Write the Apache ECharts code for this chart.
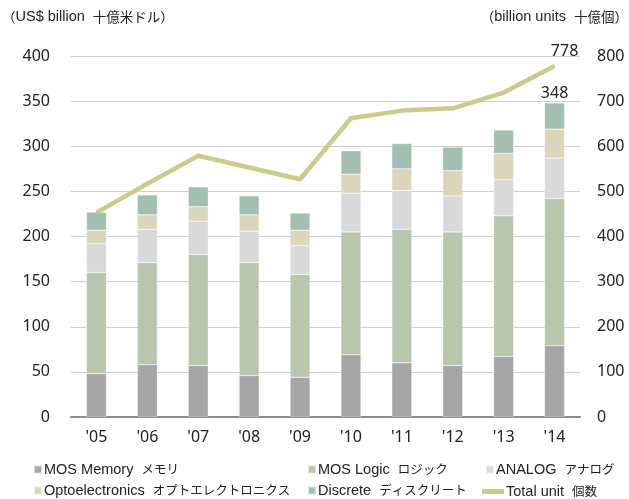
<!DOCTYPE html>
<html>
<head>
<meta charset="utf-8">
<script src="https://cdn.jsdelivr.net/npm/echarts@6/dist/echarts.min.js"></script>
<style>
  html, body { margin: 0; padding: 0; background: #fff; }
  #chart { width: 629px; height: 499px; }
</style>
</head>
<body>
<div id="chart"></div>
<script>
const years = ["'05", "'06", "'07", "'08", "'09", "'10", "'11", "'12", "'13", "'14"]
const memory = [48, 58, 57, 46, 44, 69, 60, 57, 67, 79]
const logic = [112, 113, 123, 125, 114, 136, 148, 148, 156, 163]
const analog = [32, 37, 37, 35, 32, 43, 43, 40, 40, 45]
const opto = [15, 16, 16, 18, 17, 21, 24, 28, 29, 32]
const discrete = [20, 22, 22, 21, 19, 26, 28, 26, 26, 29]
const totalUnits = [453, 517, 579, 553, 527, 662, 679, 684, 719, 778]
const leftTicks = [0, 400, 50]
const rightTicks = [0, 800, 100]

const font = "'Noto Sans', 'Noto Sans CJK JP', sans-serif"
const latin = "'Liberation Sans', sans-serif"
const cjk = "'Noto Sans CJK JP', sans-serif"
const names = {
  memory: 'MOS Memory  メモリ',
  logic: 'MOS Logic  ロジック',
  analog: 'ANALOG  アナログ',
  opto: 'Optoelectronics  オプトエレクトロニクス',
  discrete: 'Discrete  ディスクリート',
  total: 'Total unit  個数'
}
const colors = {
  memory: '#a5a5a5',
  logic: '#bac5ad',
  analog: '#d9d9d9',
  opto: '#dbd5bc',
  discrete: '#a2bfb1',
  total: '#c9cc8b'
}

const lastIdx = years.length - 1
const stackTotal = memory[lastIdx] + logic[lastIdx] + analog[lastIdx] + opto[lastIdx] + discrete[lastIdx]

// latin part and japanese part get their own font, the japanese glyphs are narrower in the original
const rich = {
  a: { fontFamily: latin, fontSize: 14.5, color: '#222' },
  b: { fontFamily: cjk, fontSize: 12.5, color: '#222' }
}
function splitName(name) {
  const parts = name.split('  ')
  return '{a|' + parts[0] + '  }{b|' + parts[1] + '}'
}

function barSeries(key, values) {
  return {
    name: names[key],
    type: 'bar',
    stack: 'sales',
    barWidth: 20,
    data: values,
    itemStyle: { color: colors[key], borderColor: 'rgba(255,255,255,0.6)', borderWidth: 0.5 }
  }
}

function oneLegend(key, left, top, isLine) {
  return {
    left: left,
    top: top,
    itemWidth: isLine ? 22 : 8,
    itemHeight: isLine ? 5 : 8,
    itemGap: 0,
    padding: 0,
    formatter: splitName,
    textStyle: { color: '#222', fontSize: 14, rich: rich, padding: [0, 0, 0, -3] },
    data: [{ name: names[key], icon: 'rect' }]
  }
}

const chart = echarts.init(document.getElementById('chart'))

const discreteSeries = barSeries('discrete', discrete.map((v, i) => i === lastIdx ? {
  value: v,
  label: {
    show: true,
    position: 'top',
    formatter: String(stackTotal),
    color: '#222',
    fontSize: 16,
    fontFamily: font,
    distance: 1
  }
} : v))

const option = {
  animation: false,
  backgroundColor: '#fff',
  grid: { left: 71, right: 49, top: 56, bottom: 82, containLabel: false },
  graphic: [
    {
      type: 'text', left: 2, top: 9,
      style: {
        text: '{b|（}{a|US$ billion  }{b|十億米ドル）}',
        rich: { a: { fontFamily: latin, fontSize: 14.5, fill: '#222' }, b: { fontFamily: cjk, fontSize: 13.5, fill: '#222' } }
      }
    },
    {
      type: 'text', right: 1, top: 9,
      style: {
        text: '{b|（}{a|billion units  }{b|十億個）}',
        rich: { a: { fontFamily: latin, fontSize: 14.5, fill: '#222' }, b: { fontFamily: cjk, fontSize: 13.5, fill: '#222' } }
      }
    }
  ],
  legend: [
    oneLegend('memory', 33, 462),
    oneLegend('logic', 307, 462),
    oneLegend('analog', 485, 462),
    oneLegend('opto', 33, 483),
    oneLegend('discrete', 307, 483),
    oneLegend('total', 482, 484, true)
  ],
  xAxis: {
    type: 'category',
    data: years,
    axisLine: { lineStyle: { color: '#8c8c8c', width: 2 } },
    axisTick: { show: false },
    axisLabel: { color: '#222', fontSize: 16, fontFamily: font, margin: 12 }
  },
  yAxis: [
    {
      type: 'value',
      min: leftTicks[0], max: leftTicks[1], interval: leftTicks[2],
      axisLine: { show: false },
      axisTick: { show: false },
      axisLabel: { color: '#222', fontSize: 16, fontFamily: font, margin: 21 },
      splitLine: { lineStyle: { color: '#d0d0d0', width: 1 } }
    },
    {
      type: 'value',
      min: rightTicks[0], max: rightTicks[1], interval: rightTicks[2],
      axisLine: { show: false },
      axisTick: { show: false },
      axisLabel: { color: '#222', fontSize: 16, fontFamily: font, margin: 17 },
      splitLine: { show: false }
    }
  ],
  series: [
    barSeries('memory', memory),
    barSeries('logic', logic),
    barSeries('analog', analog),
    barSeries('opto', opto),
    discreteSeries,
    {
      name: names.total,
      type: 'line',
      yAxisIndex: 1,
      data: totalUnits.map((v, i) => i === lastIdx ? {
        value: v,
        label: {
          show: true,
          position: 'top',
          offset: [10, -1],
          formatter: String(v),
          color: '#222',
          fontSize: 16,
          fontFamily: font
        }
      } : v),
      symbol: 'circle',
      symbolSize: 1,
      showSymbol: true,
      lineStyle: { color: colors.total, width: 4.5 },
      itemStyle: { color: colors.total },
      z: 5
    }
  ]
}

chart.setOption(option)
</script>
</body>
</html>
